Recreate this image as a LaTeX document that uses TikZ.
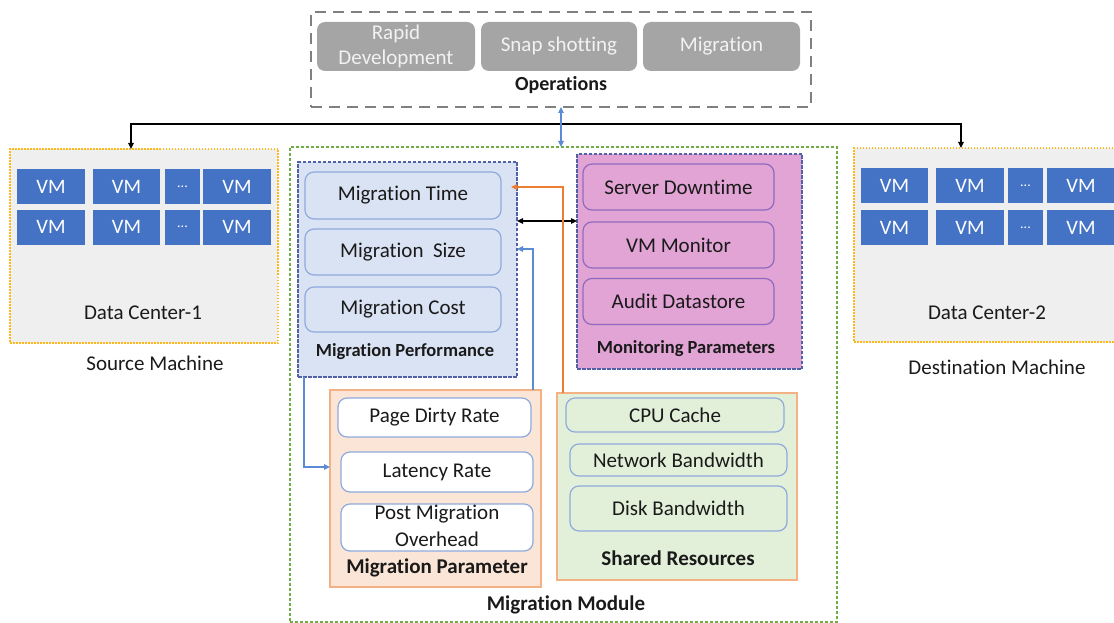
\documentclass[tikz,border=0pt]{standalone}
\usepackage{fontspec}
\setmainfont{Carlito}[Ligatures=NoCommon]
\usetikzlibrary{arrows.meta,calc}
\definecolor{opgray}{HTML}{A5A5A5}
\definecolor{opborder}{HTML}{808080}
\definecolor{dcfill}{HTML}{EFEFEF}
\definecolor{dcborder}{HTML}{FFB81C}
\definecolor{vmblue}{HTML}{4472C4}
\definecolor{mmgreen}{HTML}{70AD47}
\definecolor{mpfill}{HTML}{DAE3F3}
\definecolor{mpborder}{HTML}{5061A8}
\definecolor{itemblue}{HTML}{8FAADC}
\definecolor{monfill}{HTML}{E2A3D5}
\definecolor{monitem}{HTML}{8E6BBF}
\definecolor{parfill}{HTML}{FBE5D6}
\definecolor{orangeb}{HTML}{F4B183}
\definecolor{srfill}{HTML}{E2F0D9}
\definecolor{arrorange}{HTML}{ED7D31}
\definecolor{arrblue}{HTML}{5B8BD5}
\definecolor{txt}{HTML}{1A1A1A}
\begin{document}
\begin{tikzpicture}[x=1pt,y=-1pt,
  box/.style={rectangle, inner sep=0pt, outer sep=0pt},
  big/.style={font=\fontsize{21}{26}\selectfont, text=txt},
  bigb/.style={font=\fontsize{21}{26}\selectfont\bfseries, text=txt},
  midb/.style={font=\fontsize{18.5}{22}\selectfont\bfseries, text=txt},
  opbox/.style={box, fill=opgray, rounded corners=8pt, text=white!95!black,
    font=\fontsize{21}{26}\selectfont, align=center, minimum height=49pt},
  vm/.style={box, fill=vmblue, text=white, font=\fontsize{20.5}{24}\selectfont,
    minimum height=35pt},
  dots/.style={vm, font=\fontsize{14}{16}\selectfont, minimum width=35pt},
  dc/.style={box, fill=dcfill, draw=dcborder, line width=2pt,
    dash pattern=on 1.5pt off 1.5pt, minimum height=194pt},
  item/.style={box, rounded corners=9pt, line width=1.2pt, big, align=center},
  conn/.style={line width=1.5pt, -{Triangle[length=6pt,width=5.5pt]}},
  dconn/.style={line width=1.5pt, {Triangle[length=6pt,width=5.5pt]}-{Triangle[length=6pt,width=5.5pt]}}
]
\useasboundingbox (0,0) rectangle (1114,623);
\clip (0,0) rectangle (1114,623);

% ---------- Operations ----------
\node[box, draw=opborder, line width=2pt, dash pattern=on 11pt off 7pt,
  minimum width=500pt, minimum height=95pt] (ops) at (561,59.5) {};
\node[opbox, minimum width=158pt] (rapid) at (396,46.5) {Rapid\\[-1pt]Development};
\node[opbox, minimum width=156pt] (snap) at (559,46.5) {Snap shotting};
\node[opbox, minimum width=157pt] (migop) at (721.5,46.5) {Migration};
\node[bigb, font=\fontsize{20}{24}\selectfont\bfseries] (opslabel) at (561,85) {Operations};

% ---------- Data centers ----------
\node[dc, minimum width=268pt] (dc1) at (144,246) {};
\node[dc, minimum width=280pt] (dc2) at (994,245) {};

\node[vm, minimum width=68pt] (v11) at (51,186.5) {VM};
\node[vm, minimum width=67pt] (v12) at (126.5,186.5) {VM};
\node[dots] (v13) at (182.5,186.5) {...};
\node[vm, minimum width=68pt] (v14) at (237,186.5) {VM};
\node[vm, minimum width=68pt] (v21) at (51,227) {VM};
\node[vm, minimum width=67pt] (v22) at (126.5,227) {VM};
\node[dots] (v23) at (182.5,227) {...};
\node[vm, minimum width=68pt] (v24) at (237,227) {VM};

\node[vm, minimum width=67pt] (w11) at (894.5,185.5) {VM};
\node[vm, minimum width=68pt] (w12) at (970,185.5) {VM};
\node[dots] (w13) at (1025.5,185.5) {...};
\node[vm, minimum width=68pt] (w14) at (1081,185.5) {VM};
\node[vm, minimum width=67pt] (w21) at (894.5,227.5) {VM};
\node[vm, minimum width=68pt] (w22) at (970,227.5) {VM};
\node[dots] (w23) at (1025.5,227.5) {...};
\node[vm, minimum width=68pt] (w24) at (1081,227.5) {VM};

\node[big] (dc1label) at (143,313) {Data Center-1};
\node[big] (dc2label) at (987,313) {Data Center-2};
\node[big] (srcm) at (155,363) {Source Machine};
\node[big] (dstm) at (997,367) {Destination Machine};

% ---------- Migration Module ----------
\node[box, draw=mmgreen, line width=1.2pt, dash pattern=on 3pt off 2pt,
  minimum width=547pt, minimum height=475pt] (mm) at (563.5,384.5) {};
\node[bigb] (mmlabel) at (566,605) {Migration Module};

% Migration performance
\node[box, fill=mpfill, draw=mpborder, line width=1.3pt, dash pattern=on 3.5pt off 1.5pt,
  minimum width=219pt, minimum height=215pt] (mp) at (407.5,269.5) {};
\node[item, fill=mpfill, draw=itemblue, minimum width=196pt, minimum height=47pt] (mtime) at (403,195.5) {Migration Time};
\node[item, fill=mpfill, draw=itemblue, minimum width=196pt, minimum height=46pt] (msize) at (403,252) {Migration\ \ Size};
\node[item, fill=mpfill, draw=itemblue, minimum width=196pt, minimum height=45pt] (mcost) at (403,309.5) {Migration Cost};
\node[midb] (mplabel) at (405,352) {Migration Performance};

% Monitoring parameters
\node[box, fill=monfill, draw=mpborder, line width=1.3pt, dash pattern=on 3.5pt off 1.5pt,
  minimum width=225pt, minimum height=215pt] (mon) at (689.5,261.5) {};
\node[item, fill=monfill, draw=monitem, minimum width=191pt, minimum height=46pt] (sdown) at (678.5,187) {Server Downtime};
\node[item, fill=monfill, draw=monitem, minimum width=191pt, minimum height=46pt] (vmmon) at (678.5,245) {VM Monitor};
\node[item, fill=monfill, draw=monitem, minimum width=191pt, minimum height=46pt] (audit) at (678.5,301.5) {Audit Datastore};
\node[midb] (monlabel) at (686,349) {Monitoring Parameters};

% Migration parameter
\node[box, fill=parfill, draw=orangeb, line width=1.5pt,
  minimum width=211pt, minimum height=197pt] (mpar) at (435.5,488.5) {};
\node[item, fill=white, draw=itemblue, minimum width=193pt, minimum height=39pt] (pdr) at (434.5,417.5) {Page Dirty Rate};
\node[item, fill=white, draw=itemblue, minimum width=192pt, minimum height=40pt] (lat) at (437,472) {Latency Rate};
\node[item, fill=white, draw=itemblue, minimum width=192pt, minimum height=47pt] (pmo) at (437,527.5) {};
\node[big, align=center] (pmotext) at (437,525.5) {Post Migration\\[1pt]Overhead};
\node[bigb] (mparlabel) at (437,568) {Migration Parameter};

% Shared resources
\node[box, fill=srfill, draw=orangeb, line width=1.5pt,
  minimum width=240pt, minimum height=187pt] (sr) at (677,486.5) {};
\node[item, fill=srfill, draw=itemblue, minimum width=218pt, minimum height=34pt] (cpu) at (675,415) {CPU Cache};
\node[item, fill=srfill, draw=itemblue, minimum width=217pt, minimum height=32pt] (net) at (678.5,460) {Network Bandwidth};
\node[item, fill=srfill, draw=itemblue, minimum width=217pt, minimum height=45pt] (disk) at (678.5,508.5) {Disk Bandwidth};
\node[bigb] (srlabel) at (678,558) {Shared Resources};

% ---------- Connectors ----------
\coordinate (b1) at (131,124);
\coordinate (b2) at (961,124);
\draw[dconn, line width=1.8pt, black] (b1 |- dc1.north) -- (b1) -- (b2) -- (b2 |- dc2.north);

\draw[dconn, arrblue, line width=1.3pt] (ops.south) -- (ops.south |- mm.north);

\coordinate (ha) at (517,221);
\draw[dconn, black] (mp.east |- ha) -- (mon.west |- ha);

\coordinate (oc) at (563,187);
\coordinate (otip) at (511,187);
\draw[conn, arrorange] (oc |- sr.north) -- (oc) -- (otip);

\coordinate (bc) at (533,249);
\draw[conn, arrblue] (bc |- mpar.north) -- (bc) -- (mp.east |- bc);

\coordinate (bl) at (304,467);
\draw[conn, arrblue] (bl |- mp.south) -- (bl) -- (bl -| mpar.west);
\end{tikzpicture}
\end{document}
